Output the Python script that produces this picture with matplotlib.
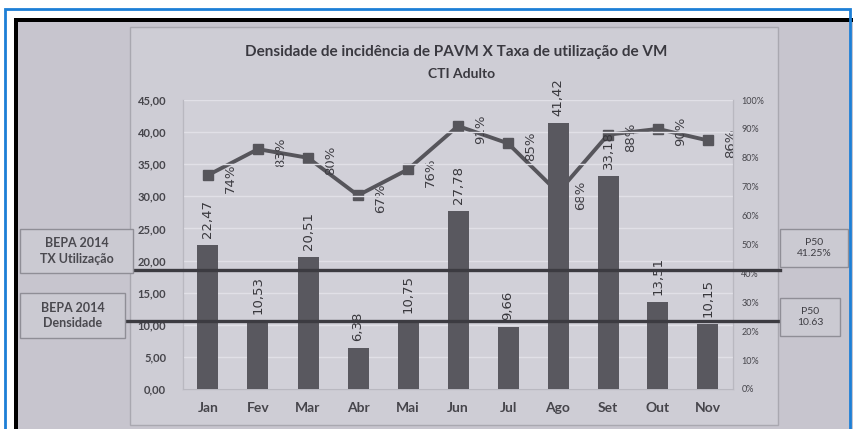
import matplotlib
matplotlib.use("Agg")
import matplotlib.pyplot as plt
from matplotlib.patches import Rectangle
from matplotlib.lines import Line2D
from matplotlib.transforms import blended_transform_factory

meses = ["Jan", "Fev", "Mar", "Abr", "Mai", "Jun", "Jul", "Ago", "Set", "Out", "Nov"]
densidade = [22.47, 10.53, 20.51, 6.38, 10.75, 27.78, 9.66, 41.42, 33.18, 13.51, 10.15]
tx_utilizacao = [74, 83, 80, 67, 76, 91, 85, 68, 88, 90, 86]
p50_tx = 41.25
p50_dens = 10.63

W, H = 854, 429
papel = "#c7c5ce"
grafico_bg = "#cecdd5"
barra = "#59585f"
escuro = "#3c3b41"


def fx(x):
    return x / W


def fy(y):
    return 1 - y / H


fig = plt.figure(figsize=(W / 100, H / 100), dpi=100)
fig.patch.set_facecolor("white")

# moldura da foto
fig.patches.append(Rectangle((fx(14), 0), 1, fy(18), transform=fig.transFigure,
                             facecolor="black", edgecolor="none", zorder=0))
fig.patches.append(Rectangle((fx(18), 0), 1, fy(22), transform=fig.transFigure,
                             facecolor=papel, edgecolor="none", zorder=0.1))
fig.patches.append(Rectangle((fx(5), fy(432)), fx(845), fy(9) - fy(432),
                             transform=fig.transFigure, facecolor="none",
                             edgecolor="#1d7fd6", lw=2, zorder=20))
# area do grafico
fig.patches.append(Rectangle((fx(130), fy(425)), fx(648), fy(27) - fy(425),
                             transform=fig.transFigure, facecolor=grafico_bg,
                             edgecolor="#a9a8b0", lw=1, zorder=0.5))

ax = fig.add_axes([fx(183), fy(389), fx(550), fy(100) - fy(389)])
ax2 = ax.twinx()
ax2.set_zorder(1)
ax.set_zorder(2)
ax.patch.set_visible(False)
ax2.patch.set_visible(True)
ax2.patch.set_facecolor("#d1d0d8")

x = list(range(len(meses)))
tx_frac = [v / 100 for v in tx_utilizacao]

ax2.plot(x, tx_frac, color="#56555b", lw=2.8, marker="s", markersize=7,
         markerfacecolor="#56555b", zorder=2)
ax.bar(x, densidade, width=0.42, color=barra, zorder=3)
ax.set_axisbelow(True)
ax.grid(axis="y", color="#e1e0e7", lw=1)

ax.set_xlim(-0.5, len(meses) - 0.5)
ax.set_ylim(0, 45)
ax.set_yticks(range(0, 50, 5))
ax.set_yticklabels([f"{v:.2f}".replace(".", ",") for v in range(0, 50, 5)],
                   fontsize=8, fontfamily="Lato", fontweight="bold", color="#46454b")
ax.set_xticks(x)
ax.set_xticklabels(meses, fontsize=10, fontfamily="Lato", fontweight="bold", color="#46454b")
ax.tick_params(axis="both", length=0)
ax.tick_params(axis="y", pad=12)
ax.tick_params(axis="x", pad=9)

ax2.set_ylim(0, 1)
ax2.set_yticks([i / 10 for i in range(11)])
ax2.set_yticklabels([f"{i * 10}%" for i in range(11)], fontsize=6.5,
                    fontfamily="Lato", color="#46454b")
ax2.tick_params(axis="y", length=0, pad=6)

for a in (ax, ax2):
    for s in a.spines.values():
        s.set_color("#b9b8c0")
        s.set_linewidth(0.8)
    a.spines["top"].set_visible(False)

for i, v in enumerate(densidade):
    ax.annotate(f"{v:.2f}".replace(".", ","), (i, v), xytext=(0, 5),
                textcoords="offset points", rotation=90, ha="center", va="bottom",
                fontsize=9.5, color="#38373c", zorder=6)

for i, v in enumerate(tx_frac):
    ax2.annotate(f"{tx_utilizacao[i]}%", (i, v), xytext=(16, -2),
                 textcoords="offset points", rotation=90, ha="center", va="center",
                 fontsize=9.5, color="#3e3d43", zorder=6)

# linhas de referencia BEPA 2014 (P50)
tr_tx = blended_transform_factory(fig.transFigure, ax2.transData)
tr_dens = blended_transform_factory(fig.transFigure, ax.transData)
fig.add_artist(Line2D([fx(133), fx(780)], [p50_tx / 100, p50_tx / 100],
                      transform=tr_tx, color=escuro, lw=2.4, zorder=8))
fig.add_artist(Line2D([fx(125), fx(780)], [p50_dens, p50_dens],
                      transform=tr_dens, color=escuro, lw=2.4, zorder=8))


def caixa_texto(x0, y0, x1, y1, texto, **kw):
    fig.patches.append(Rectangle((fx(x0), fy(y1)), fx(x1 - x0), fy(y0) - fy(y1),
                                 transform=fig.transFigure, facecolor="#cbcad2",
                                 edgecolor="#8f8e96", lw=1, zorder=9))
    fig.text(fx((x0 + x1) / 2), fy((y0 + y1) / 2), texto, ha="center", va="center",
             linespacing=1.35, zorder=10, **kw)


caixa_texto(20, 229, 133, 273, "BEPA 2014\nTX Utilização", fontsize=9,
            fontfamily="Lato", fontweight="bold", color="#4a494f")
caixa_texto(20, 293, 125, 338, "BEPA 2014\nDensidade", fontsize=9,
            fontfamily="Lato", fontweight="bold", color="#4a494f")
caixa_texto(780, 229, 848, 267, f"P50\n{p50_tx:.2f}%", fontsize=7.5,
            fontfamily="Lato", color="#3e3d43")
caixa_texto(780, 298, 840, 336, f"P50\n{p50_dens:.2f}", fontsize=7.5,
            fontfamily="Lato", color="#3e3d43")

fig.text(fx(456), fy(52), "Densidade de incidência de PAVM X Taxa de utilização de VM",
         ha="center", va="center", fontsize=11, fontfamily="Lato", fontweight="bold",
         color="#3a3940")
fig.text(fx(462), fy(74), "CTI Adulto", ha="center", va="center", fontsize=10,
         fontfamily="Lato", fontweight="bold", color="#3a3940")

fig.savefig("out.png", dpi=100, facecolor=fig.get_facecolor())
